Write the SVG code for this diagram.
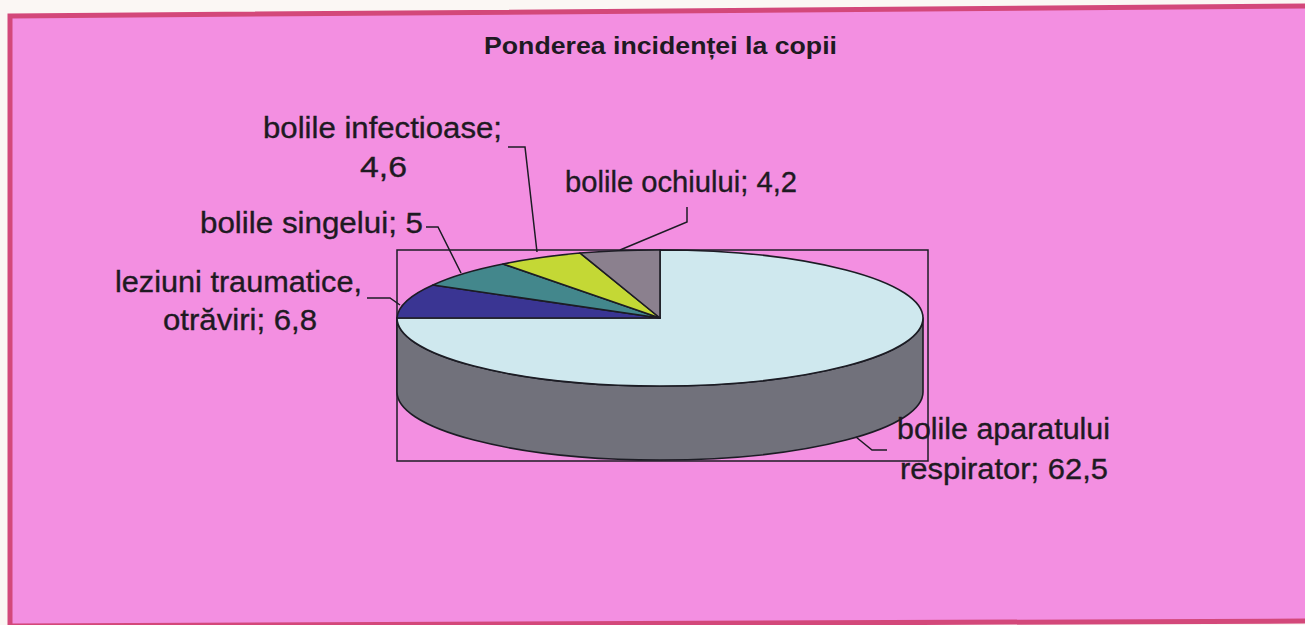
<svg xmlns="http://www.w3.org/2000/svg" width="1305" height="625" viewBox="0 0 1305 625">
  <style>
    .lbl { font-family: "Liberation Sans", Arial, sans-serif; font-size: 29px; fill: #1e1a22; stroke: #1e1a22; stroke-width: 0.35; }
    .ttl { font-family: "Liberation Sans", Arial, sans-serif; font-size: 23px; font-weight: bold; fill: #1e1a22; }
    .edge { stroke: #1c1c24; stroke-width: 1.6; stroke-linejoin: round; }
    .lead { fill: none; stroke: #1c1c24; stroke-width: 1.5; }
  </style>
  <rect x="0" y="0" width="1305" height="625" fill="#fbf7f4"/>
  <g id="background">
    <polygon points="10,16 1310,6 1310,621 10,626" fill="#f38fe1" stroke="#d3487a" stroke-width="5"/>
  </g>
  <g id="title">
    <text class="ttl" x="484" y="54" textLength="353" lengthAdjust="spacingAndGlyphs">Ponderea incidenței la copii</text>
  </g>
  <g id="plot-area">
    <rect x="397" y="250" width="531" height="211" fill="none" stroke="#1c1c24" stroke-width="1.5"/>
  </g>
  <g id="pie">
    <path id="side" class="edge" d="M397,318 A263,68 0 0,0 923,318 L923,392 A263,68 0 0,1 397,392 Z" fill="#71717b"/>
    <path id="slice-respirator" class="edge" d="M660,318 L660,250 A263,68 0 1,1 397,318 Z" fill="#cfe8ee"/>
    <path id="slice-leziuni" class="edge" d="M660,318 L397,318 A263,68 0 0,1 433,285 Z" fill="#3a3593"/>
    <path id="slice-singelui" class="edge" d="M660,318 L433,285 A263,68 0 0,1 503,264 Z" fill="#43878c"/>
    <path id="slice-infectioase" class="edge" d="M660,318 L503,264 A263,68 0 0,1 580,253 Z" fill="#c4d835"/>
    <path id="slice-ochiului" class="edge" d="M660,318 L580,253 A263,68 0 0,1 660,250 Z" fill="#8b808e"/>
  </g>
  <g id="connectors">
    <path class="lead" d="M508,147 L525,147 L537,252"/>
    <path class="lead" d="M687,207 L687,222 L620,250"/>
    <path class="lead" d="M426,227 L438,227 L461,273"/>
    <path class="lead" d="M367,298 L390,298 L400,305"/>
    <path class="lead" d="M856,437 L872,450 L887,450"/>
  </g>
  <g id="label-infectioase">
    <text class="lbl" x="263" y="138" textLength="239" lengthAdjust="spacingAndGlyphs">bolile infectioase;</text>
    <text class="lbl" x="360" y="177" textLength="47" lengthAdjust="spacingAndGlyphs">4,6</text>
  </g>
  <g id="label-ochiului">
    <text class="lbl" x="565" y="192" textLength="232" lengthAdjust="spacingAndGlyphs">bolile ochiului; 4,2</text>
  </g>
  <g id="label-singelui">
    <text class="lbl" x="200" y="233" textLength="223" lengthAdjust="spacingAndGlyphs">bolile singelui; 5</text>
  </g>
  <g id="label-leziuni">
    <text class="lbl" x="115" y="292" textLength="247" lengthAdjust="spacingAndGlyphs">leziuni traumatice,</text>
    <text class="lbl" x="163" y="330" textLength="154" lengthAdjust="spacingAndGlyphs">otrăviri; 6,8</text>
  </g>
  <g id="label-respirator">
    <text class="lbl" x="897" y="439" textLength="213" lengthAdjust="spacingAndGlyphs">bolile aparatului</text>
    <text class="lbl" x="900" y="479" textLength="208" lengthAdjust="spacingAndGlyphs">respirator; 62,5</text>
  </g>
</svg>
